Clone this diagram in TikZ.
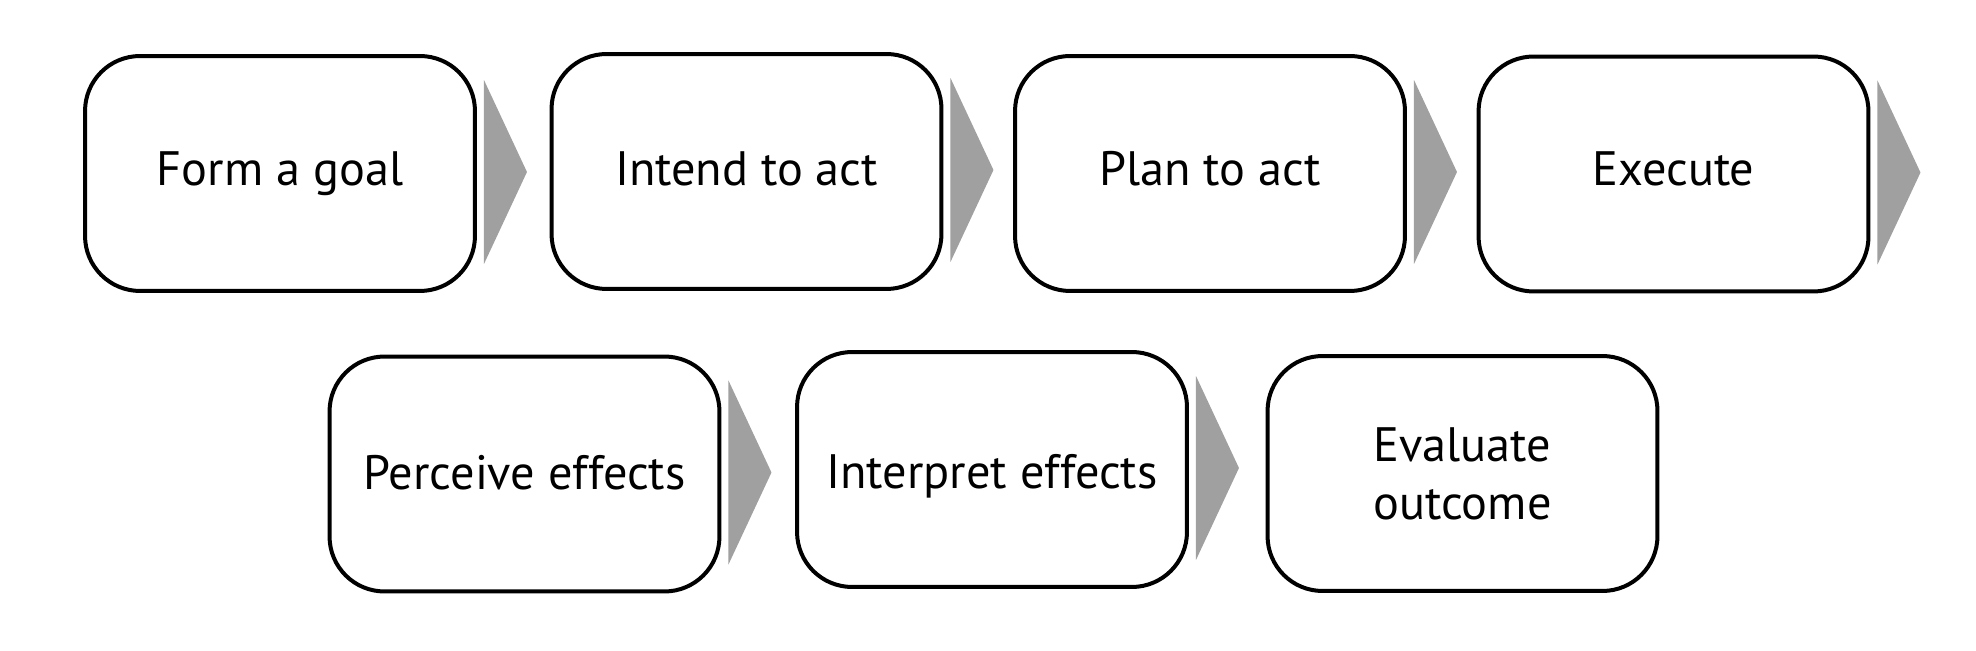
\documentclass[tikz,border=0pt]{standalone}
\usepackage{fontspec}
\setmainfont{PT Sans}
\usepackage{tikz}
\usetikzlibrary{calc}
\definecolor{Chevron}{HTML}{A0A0A0}
\tikzset{stage/.style={rounded corners=1.1cm,draw=black,line width=.08cm,fill=white,minimum width=7.8cm,minimum height=4.7cm,align=center,inner sep=0pt,font=\fontsize{27.5}{33}\selectfont},stageone/.style={stage,text height=.74cm,text depth=.24cm},chev/.style={fill=Chevron,draw=none}}

\begin{document}
\begin{tikzpicture}[x=.02cm,y=-.02cm]
        \useasboundingbox(0,0)rectangle(1976,651);
        \node[stageone](goal)at(280,173.5){Form a goal};
        \node[stageone,text height=.82cm](intend)at(746.5,171.5){Intend to act};
        \node[stageone](plan)at(1210,173.5){Plan to act};
        \node[stageone,text height=.7cm](execute)at(1673.5,174){Execute};
        \node[stageone,text height=.88cm](perceive)at(524.5,474){Perceive effects};
        \node[stageone,text height=1.02cm](interpret)at(992,469.5){Interpret effects};
        \node[stage](evaluate)at(1462.5,473.5){Evaluate\\outcome};
        \foreach \n in {goal,intend,plan,execute,perceive,interpret}
          \fill[chev]($(\n.east)+(7,-93.5)$)--++(43,92)--++(-43,92)--cycle;
      \end{tikzpicture}
\end{document}
